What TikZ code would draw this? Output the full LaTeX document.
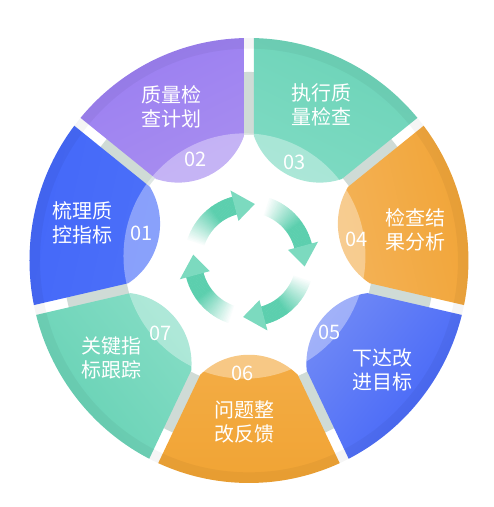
\documentclass[tikz,border=0pt]{standalone}
\usepackage{fontspec}
\newfontfamily\cjk{Noto Sans CJK SC}
\definecolor{ringgray}{HTML}{CFDBD6}
\definecolor{c1o}{HTML}{4266F8}\definecolor{c1i}{HTML}{4E72FA}
\definecolor{c2o}{HTML}{987CF1}\definecolor{c2i}{HTML}{AC92F0}
\definecolor{c3o}{HTML}{69D2B6}\definecolor{c3i}{HTML}{84DDC6}
\definecolor{c4o}{HTML}{F0A02D}\definecolor{c4i}{HTML}{F5B762}
\definecolor{c5o}{HTML}{3D60F7}\definecolor{c5i}{HTML}{7E94F6}
\definecolor{c6o}{HTML}{F0A02D}\definecolor{c6i}{HTML}{F4B04C}
\definecolor{c7o}{HTML}{62D0B2}\definecolor{c7i}{HTML}{8EE0CA}
\definecolor{arr}{HTML}{5CCFAE}
\definecolor{arrh}{HTML}{7CDABF}
\newcommand\drawseg[3]{%
 \pgfmathsetmacro\sa{#1+25.714}%
 \pgfmathsetmacro\sb{#1-90}%
 \begin{scope}
  \clip (#1:11.5) -- ++(\sa:320) -- ++(\sb:277.7) -- cycle;
  \clip (219.5,0) arc[start angle=0,delta angle=360,radius=219.5] -- cycle;
  \clip (219.5,0) arc[start angle=0,delta angle=360,radius=219.5] -- cycle
        (122.5,0) arc[start angle=0,delta angle=-360,radius=122.5] -- cycle
        (#1:163) ++(70,0) arc[start angle=0,delta angle=360,radius=70] -- cycle;
  \shade[top color=#2,bottom color=#3,shading angle=\sb] (#1:158) circle[radius=112];
 \end{scope}}
\begin{document}
\begin{tikzpicture}[x=1pt,y=1.0137pt,
  lbl/.style={text=white,font=\cjk\fontsize{20}{23.5}\selectfont,align=center,inner sep=0pt},
  num/.style={text=white,font=\cjk\fontsize{20}{24}\selectfont,inner sep=0pt}]
\useasboundingbox (-249,-243.2) rectangle (245,257);
% gray ring behind
\fill[ringgray,even odd rule] (0,0) circle[radius=186] (0,0) circle[radius=124];
% segments
\drawseg{167.143}{c1o}{c1i}
\drawseg{115.714}{c2o}{c2i}
\drawseg{64.286}{c3o}{c3i}
\drawseg{12.857}{c4o}{c4i}
\drawseg{-38.571}{c5o}{c5i}
\drawseg{-90}{c6o}{c6i}
\drawseg{-141.429}{c7o}{c7i}
% outer rim
\fill[black,opacity=0.04,even odd rule] (0,0) circle[radius=219.5] (0,0) circle[radius=209];
% light overlay
\fill[white,opacity=0.35] (-4.5,4.4) circle[radius=121];
% center arrows
\foreach \k in {0,1,2,3}{
  \pgfmathsetmacro\ta{163-90*\k}
  \pgfmathsetmacro\hb{105-90*\k}
  \pgfmathsetmacro\tp{84-90*\k}
  \foreach \i in {0,...,39}{
    \pgfmathsetmacro\aa{\ta-\i*1.45}
    \pgfmathsetmacro\ab{\aa-1.85}
    \pgfmathtruncatemacro\pp{min(100,\i*4)}
    \fill[arr!\pp!white] (\aa:47) arc[start angle=\aa,end angle=\ab,radius=47] -- (\ab:65) arc[start angle=\ab,end angle=\aa,radius=65] -- cycle;
  }
  \fill[arrh] (\hb:40.5) -- (\tp:56) -- (\hb:71.5) -- cycle;
}
% texts
\node[lbl] (t1) at (-166,37) {梳理质\\控指标};
\node[num] (n1) at (-107,27.1) {01};
\node[lbl] (t2) at (-77,151.4) {质量检\\查计划};
\node[num] (n2) at (-53,100.1) {02};
\node[lbl] (t3) at (73,153.4) {执行质\\量检查};
\node[num] (n3) at (46,97.2) {03};
\node[lbl] (t4) at (167,30.1) {检查结\\果分析};
\node[num] (n4) at (108,21.2) {04};
\node[lbl] (t5) at (134,-108) {下达改\\进目标};
\node[num] (n5) at (81,-70.5) {05};
\node[lbl] (t6) at (-4,-159.3) {问题整\\改反馈};
\node[num] (n6) at (-6,-111) {06};
\node[lbl] (t7) at (-137,-96.2) {关键指\\标跟踪};
\node[num] (n7) at (-88,-71.5) {07};
\end{tikzpicture}
\end{document}
